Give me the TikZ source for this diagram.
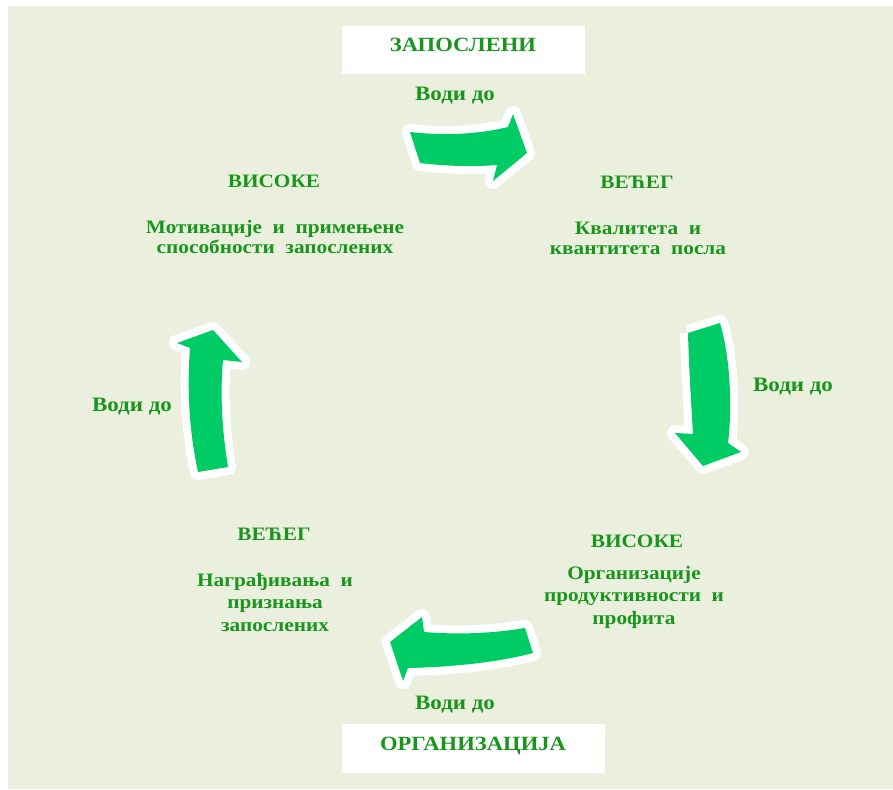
\documentclass[tikz,border=0pt]{standalone}
\usepackage{fontspec}
\setmainfont[FakeStretch=1.12]{Liberation Serif}
\definecolor{bgcream}{RGB}{235,240,222}
\definecolor{arrowgreen}{RGB}{0,204,102}
\definecolor{textgreen}{RGB}{24,150,28}
\tikzset{
  cycletext/.style={text=textgreen, inner sep=0pt, align=center, anchor=base,
    font=\bfseries\fontsize{19}{20}\selectfont},
  widetext/.style={cycletext, font=\bfseries\fontsize{19}{22.5}\selectfont},
  headtext/.style={cycletext, font=\bfseries\fontsize{20.2}{24}\selectfont},
  leadtext/.style={cycletext, font=\bfseries\fontsize{20.5}{24}\selectfont},
  whitebox/.style={fill=white, draw=none},
  blockarrow/.style={fill=arrowgreen,
    preaction={draw=white, line width=16pt, line join=round}}
}
\begin{document}
\begin{tikzpicture}[x=1pt,y=-1pt]
  \useasboundingbox (0,0) rectangle (893,789);
  \fill[bgcream] (8,6) rectangle (893,789);

  % title boxes
  \fill[whitebox] (342,26) rectangle (585,74);
  \fill[whitebox] (342,724) rectangle (605,773);
  \node[headtext] (emp) at (463,52) {ЗАПОСЛЕНИ};
  \node[headtext] (org) at (473,750) {ОРГАНИЗАЦИЈА};

  % curved block arrows of the cycle
  \path[blockarrow] (410,132) .. controls (445,136) and (480,134) .. (508,127)
    -- (513,114) -- (527,153) -- (493,181) -- (497,165)
    .. controls (470,167) and (445,166) .. (420,163) -- cycle;
  \path[blockarrow] (688,333) -- (720,323)
    .. controls (731,360) and (732,410) .. (728,443)
    -- (741,452) -- (703,466) -- (675,433) -- (693,434)
    .. controls (691,400) and (689,370) .. (688,333);
  \path[blockarrow] (213,330) -- (242,362) -- (223,360)
    .. controls (220,395) and (222,430) .. (228,467)
    -- (198,472) .. controls (189,430) and (187,390) .. (190,348)
    -- (177,343) -- cycle;
  \path[blockarrow] (390,642) -- (422,617) -- (424,632)
    .. controls (460,635) and (495,633) .. (525,628)
    -- (533,653) .. controls (495,663) and (450,667) .. (408,668)
    -- (403,681) -- cycle;

  % "leads to" labels
  \node[leadtext] (l1) at (455,101) {Води до};
  \node[leadtext] (l2) at (793,391) {Води до};
  \node[leadtext] (l3) at (455,709) {Води до};
  \node[leadtext] (l4) at (132,411) {Води до};

  % stages of the cycle (multi-line nodes sit on the baseline of their last line)
  \node[cycletext] (hm) at (274,187) {ВИСОКЕ};
  \node[cycletext] (hmt) at (275,253) {Мотивације~ и~ примењене\\способности~ запослених};
  \node[cycletext] (gq) at (637,188) {ВЕЋЕГ};
  \node[cycletext] (gqt) at (638,254) {Квалитета~ и\\квантитета~ посла};
  \node[cycletext] (hp) at (637,547) {ВИСОКЕ};
  \node[widetext] (hpt) at (634,624) {Организације\\продуктивности~ и\\профита};
  \node[cycletext] (gr) at (274,540) {ВЕЋЕГ};
  \node[widetext] (grt) at (275,631) {Награђивања~ и\\признања\\запослених};
\end{tikzpicture}
\end{document}
